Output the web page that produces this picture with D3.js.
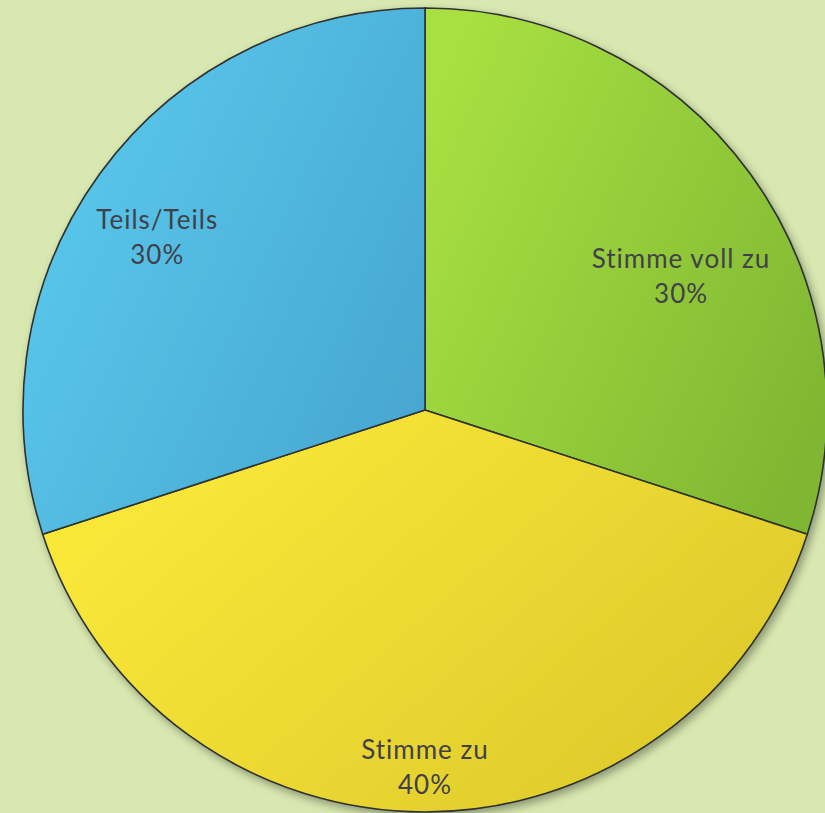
<!DOCTYPE html>
<html>
<head>
<meta charset="utf-8">
<script src="https://cdn.jsdelivr.net/npm/d3@7"></script>
<style>
  html, body { margin: 0; padding: 0; background: #d8e8b0; }
  svg { display: block; }
  .slice { stroke: #2d3030; stroke-width: 1.6; }
  .slice__label { font-family: "Lato", "Open Sans", sans-serif; font-size: 26px; letter-spacing: 1px; fill: #41404a; }
</style>
</head>
<body>
<div id="chartPie"></div>
<script>
const categories = ['Stimme voll zu', 'Stimme zu', 'Teils/Teils'];
const values = [30, 40, 30];
const valueLabels = ['30%', '40%', '30%'];

const chartWidth = 825;
const chartHeight = 813;
const centerX = 425;
const centerY = 410;
const radius = 402;

// light / dark end of each slice gradient
const sliceColors = [
    ['#a8e042', '#7fb632'],
    ['#fcea3a', '#dcc82a'],
    ['#5bcaee', '#47a6cf']
];

// radial position of the label, as a fraction of the radius, and angle nudge
const labelRadius = [0.722, 0.88, 0.797];
const labelAngleShift = [0.138, 0, -0.047];

const svg = d3.select('#chartPie')
            .append('svg')
            .attr('width', chartWidth)
            .attr('height', chartHeight);

const defs = svg.append('defs');

const shadow = defs.append('filter')
            .attr('id', 'pieShadow')
            .attr('x', '-10%').attr('y', '-10%')
            .attr('width', '120%').attr('height', '120%');
shadow.append('feDropShadow')
    .attr('dx', 3).attr('dy', 4)
    .attr('stdDeviation', 4)
    .attr('flood-color', '#000')
    .attr('flood-opacity', 0.35);

sliceColors.forEach((c, i) => {
    const g = defs.append('linearGradient')
        .attr('id', 'grad' + i)
        .attr('x1', '0%').attr('y1', '20%')
        .attr('x2', '100%').attr('y2', '80%');
    g.append('stop').attr('offset', '0%').attr('stop-color', c[0]);
    g.append('stop').attr('offset', '100%').attr('stop-color', c[1]);
});

const pie = d3.pie()
            .sort(null)
            .value(d => d);

const arc = d3.arc()
            .innerRadius(0)
            .outerRadius(radius);

const arcs = pie(values);

const plotSlices = () => {
    svg.append('g')
        .attr('transform', 'translate(' + centerX + ',' + centerY + ')')
        .attr('filter', 'url(#pieShadow)')
        .selectAll('path')
        .data(arcs)
        .enter()
        .append('path')
        .attr('d', arc)
        .attr('fill', (d, i) => 'url(#grad' + i + ')')
        .attr('class', 'slice');
};

const plotLabels = () => {
    const g = svg.append('g')
        .attr('transform', 'translate(' + centerX + ',' + centerY + ')');

    const label = g.selectAll('text')
        .data(arcs)
        .enter()
        .append('text')
        .attr('class', 'slice__label')
        .attr('text-anchor', 'middle')
        .attr('transform', (d, i) => {
            const a = (d.startAngle + d.endAngle) / 2 + labelAngleShift[i];
            const r = radius * labelRadius[i];
            return 'translate(' + (r * Math.sin(a)) + ',' + (-r * Math.cos(a)) + ')';
        });

    label.append('tspan')
        .attr('x', 0)
        .attr('dy', '-0.2em')
        .text((d, i) => categories[i]);

    label.append('tspan')
        .attr('x', 0)
        .attr('dy', '1.35em')
        .text((d, i) => valueLabels[i]);
};

plotSlices();
plotLabels();
</script>
</body>
</html>
